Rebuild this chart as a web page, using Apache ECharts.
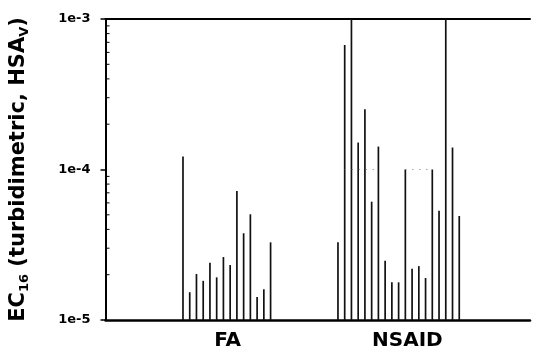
<!DOCTYPE html>
<html>
<head>
<meta charset="utf-8">
<script src="https://cdn.jsdelivr.net/npm/echarts@6/dist/echarts.min.js"></script>
<style>html,body{margin:0;padding:0;background:#fff}#c{width:533px;height:352px}</style>
</head>
<body>
<div id="c"></div>
<script>
// ---- data ----
var groupNames = ['FA', 'NSAID'];
var faValues = [1.22e-4, 1.53e-5, 2.02e-5, 1.82e-5, 2.40e-5, 1.92e-5, 2.62e-5, 2.32e-5, 7.2e-5, 3.77e-5, 5.04e-5, 1.42e-5, 1.60e-5, 3.28e-5];
var nsaidValues = [3.28e-5, 6.72e-4, 1.0e-3, 1.51e-4, 2.51e-4, 6.11e-5, 1.42e-4, 2.48e-5, 1.78e-5, 1.78e-5, 1.0e-4, 2.19e-5, 2.28e-5, 1.90e-5, 1.0e-4, 5.32e-5, 1.0e-3, 1.40e-4, 4.91e-5];
var yTickValues = [1e-5, 1e-4, 1e-3];
var yTickLabels = ['1e-5', '1e-4', '1e-3'];
var minorTickValues = [2e-5, 3e-5, 4e-5, 5e-5, 6e-5, 7e-5, 8e-5, 9e-5, 2e-4, 3e-4, 4e-4, 5e-4, 6e-4, 7e-4, 8e-4, 9e-4];
var refLineValue = 1e-4;

// ---- layout of category slots ----
var leadBlank = 11, midBlank = 9, tailBlank = 10;
var categories = [];
var barData = [];
var i;
for (i = 0; i < leadBlank; i++) categories.push('');
var faStart = categories.length;
for (i = 0; i < faValues.length; i++) { barData.push([categories.length, faValues[i]]); categories.push(''); }
var faEnd = categories.length - 1;
for (i = 0; i < midBlank; i++) categories.push('');
var nsStart = categories.length;
for (i = 0; i < nsaidValues.length; i++) { barData.push([categories.length, nsaidValues[i]]); categories.push(''); }
var nsEnd = categories.length - 1;
for (i = 0; i < tailBlank; i++) categories.push('');

var faLabelIdx = Math.round((faStart + faEnd) / 2);
var nsLabelIdx = Math.round((nsStart + nsEnd) / 2) + 1;
var catData = categories.map(function (c, k) {
  if (k === faLabelIdx) return { value: groupNames[0], textStyle: { padding: [0, 5, 0, 0] } };
  if (k === nsLabelIdx) return { value: groupNames[1], textStyle: { padding: [0, 0, 0, 4] } };
  return { value: 'c' + k };
});
var shownLabels = {}; shownLabels[faLabelIdx] = 1; shownLabels[nsLabelIdx] = 1;

var yMin = yTickValues[0], yMax = yTickValues[yTickValues.length - 1];
var FONT = '"DejaVu Sans", Arial, sans-serif';

var chart = echarts.init(document.getElementById('c'), null, { renderer: 'canvas' });
chart.setOption({
  animation: false,
  backgroundColor: '#fff',
  grid: { left: 100, right: 3, top: 19, bottom: 32, containLabel: false },
  xAxis: [{
    type: 'category',
    data: catData,
    boundaryGap: true,
    axisLine: { lineStyle: { color: '#000', width: 2.5 } },
    axisTick: { show: false },
    axisLabel: {
      interval: 0,
      margin: 11,
      color: '#000',
      fontFamily: FONT,
      fontWeight: 'bold',
      fontSize: 20,
      formatter: function (v, idx) { return shownLabels[idx] ? v : ''; }
    },
    splitLine: { show: false }
  }, {
    type: 'category',
    position: 'top',
    data: catData,
    axisLine: { onZero: false, lineStyle: { color: '#000', width: 2 } },
    axisTick: { show: false },
    axisLabel: { show: false }
  }],
  yAxis: {
    type: 'log',
    logBase: 10,
    min: yMin,
    max: yMax,
    splitNumber: 2,
    axisLine: { show: true, lineStyle: { color: '#000', width: 2 } },
    axisTick: { show: true, length: 5, inside: false, lineStyle: { color: '#000', width: 1.5 } },
    axisLabel: {
      margin: 15,
      color: '#000',
      fontFamily: FONT,
      fontWeight: 'bold',
      fontSize: 13,
      formatter: function (v) {
        for (var k = 0; k < yTickValues.length; k++) {
          if (Math.abs(Math.log10(v) - Math.log10(yTickValues[k])) < 1e-6) return yTickLabels[k];
        }
        return '';
      }
    },
    splitLine: { show: false },
    name: '{b|EC}{s|16}{b| (turbidimetric, HSA}{s|V}{b|)}',
    nameLocation: 'middle',
    nameRotate: 90,
    nameGap: 74,
    nameTextStyle: {
      rich: {
        b: { fontFamily: FONT, fontWeight: 'bold', fontSize: 21, color: '#000', lineHeight: 26, verticalAlign: 'middle' },
        s: { fontFamily: FONT, fontWeight: 'bold', fontSize: 13, color: '#000', lineHeight: 13, verticalAlign: 'bottom', padding: [10, 0, 0, 0] }
      }
    }
  },
  series: [{
    type: 'custom',
    name: 'bars',
    coordinateSystem: 'cartesian2d',
    data: barData,
    clip: true,
    z: 3,
    renderItem: function (params, api) {
      var top = api.coord([api.value(0), api.value(1)]);
      var base = api.coord([api.value(0), yMin]);
      return {
        type: 'line',
        shape: { x1: top[0], y1: top[1], x2: base[0], y2: base[1] },
        style: { stroke: '#111', lineWidth: 1.7 }
      };
    },
    markLine: {
      silent: true,
      symbol: 'none',
      label: { show: false },
      lineStyle: { type: [1, 6], color: '#777', width: 1 },
      data: [
        [{ coord: [nsStart + 1, refLineValue] }, { coord: [nsStart + 6, refLineValue] }],
        [{ coord: [nsStart + 10, refLineValue] }, { coord: [nsStart + 14, refLineValue] }]
      ]
    }
  }, {
    type: 'custom',
    name: 'minorTicks',
    coordinateSystem: 'cartesian2d',
    data: minorTickValues.map(function (v, k) { return [k + 1, v]; }),
    z: 10,
    clip: false,
    renderItem: function (params, api) {
      var p = api.coord([0, api.value(1)]);
      var half = api.size([1, 0])[0] / 2;
      var x0 = p[0] - half;
      return {
        type: 'line',
        shape: { x1: x0, y1: p[1], x2: x0 + 4, y2: p[1] },
        style: { stroke: '#000', lineWidth: 1 }
      };
    }
  }]
});
</script>
</body>
</html>
